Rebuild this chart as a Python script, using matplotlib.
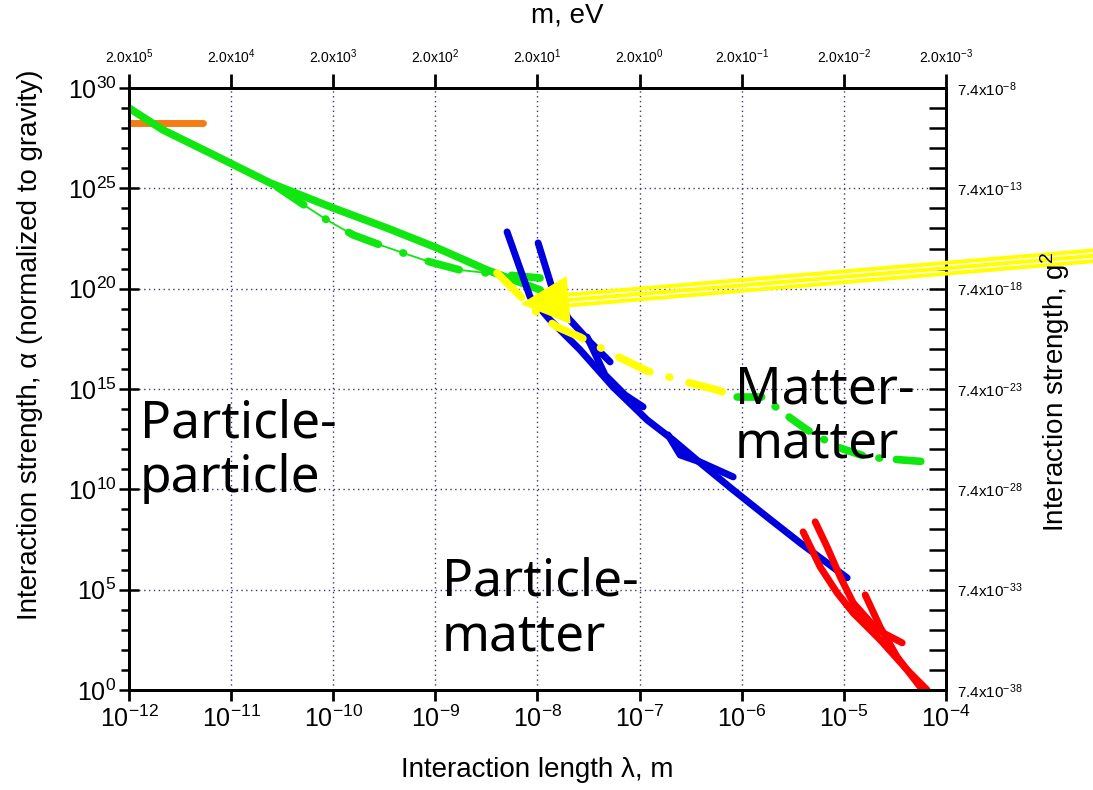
import matplotlib
matplotlib.use('Agg')
import matplotlib.pyplot as plt
import numpy as np
from matplotlib.lines import Line2D
from matplotlib.patches import Polygon
from matplotlib.ticker import FixedLocator, NullFormatter, NullLocator

plt.rcParams['font.family'] = ['Liberation Sans', 'DejaVu Sans']
plt.rcParams['mathtext.fontset'] = 'custom'
plt.rcParams['mathtext.rm'] = 'Liberation Sans'
plt.rcParams['mathtext.it'] = 'Liberation Sans:italic'
plt.rcParams['mathtext.bf'] = 'Liberation Sans:bold'

# axis decades (log10)
x_exp = [-12, -11, -10, -9, -8, -7, -6, -5, -4]
y_exp = [0, 5, 10, 15, 20, 25, 30]
mass_exp = [5, 4, 3, 2, 1, 0, -1, -2, -3]          # m = 2.0x10^k eV on top axis
g2_exp = [-38, -33, -28, -23, -18, -13, -8]         # g^2 = 7.4x10^k on right axis

# curves: log10(lambda [m]) and log10(alpha)
orange_x = [-12.0, -11.28]
orange_y = [28.26, 28.26]

green_x = [-12.0, -11.667, -11.207, -10.619, -10.0, -9.473, -8.983, -8.494, -7.975]
green_y = [29.0, 27.91, 26.76, 25.27, 24.02, 23.02, 22.03, 20.93, 19.94]

green_thin_x = [-10.55, -10.257, -10.061, -9.806, -9.542, -9.316, -9.052, -8.758, -8.494, -7.975]
green_thin_y = [25.07, 24.07, 23.42, 22.68, 22.18, 21.78, 21.33, 20.93, 20.78, 20.53]

yellow_x = [-8.396, -8.004, -7.808, -7.583, -7.289, -6.927, -6.505, -6.241, -6.045]
yellow_y = [20.78, 18.79, 18.09, 17.59, 16.80, 15.90, 15.30, 14.95, 14.60]

green_mm_x = [-6.045, -5.79, -5.594, -5.359, -5.066, -4.772, -4.419, -4.155]
green_mm_y = [14.60, 14.60, 13.81, 12.96, 12.11, 11.61, 11.46, 11.36]

blue_a_x = [-8.298, -8.073, -7.877, -7.583, -7.26, -6.927, -6.672, -6.407, -6.084, -5.751, -5.428, -4.968]
blue_a_y = [22.83, 19.59, 18.44, 16.95, 15.10, 13.46, 12.46, 11.32, 9.97, 8.62, 7.33, 5.59]
blue_b_x = [-7.994, -7.857, -7.70, -7.485, -7.289]
blue_b_y = [22.28, 20.03, 18.54, 17.34, 16.35]
blue_c_x = [-7.514, -7.338, -7.142, -6.966]
blue_c_y = [17.59, 15.70, 14.70, 14.11]
blue_d_x = [-6.721, -6.603, -6.407, -6.084]
blue_d_y = [12.71, 11.71, 11.36, 10.62]

red_a_x = [-5.399, -5.232, -5.066, -4.909, -4.645, -4.38, -4.184]
red_a_y = [7.88, 6.13, 4.84, 3.84, 2.50, 1.00, 0.0]
red_b_x = [-5.281, -5.164, -5.036, -4.909, -4.674, -4.429]
red_b_y = [8.38, 7.13, 5.64, 4.34, 3.00, 2.35]
red_c_x = [-4.791, -4.645, -4.478, -4.253]
red_c_y = [4.74, 3.14, 1.65, 0.15]

# yellow arrow pointing at the crossing point
arrow_tip = (-8.151, 19.24)

GREEN = '#10e610'
BLUE = '#0000dc'
RED = '#ff0000'
ORANGE = '#f57c14'
YELLOW = '#ffff00'


def P(xs, ys):
    return 10.0 ** np.array(xs), 10.0 ** np.array(ys)


W, H = 1093, 790
fig = plt.figure(figsize=(W / 100, H / 100), dpi=100)
ax = fig.add_axes([129 / W, 100 / H, 817 / W, 602 / H])
ax.set_xscale('log')
ax.set_yscale('log')
ax.set_xlim(1e-12, 1e-4)
ax.set_ylim(1, 1e30)

kw = dict(solid_capstyle='round', dash_capstyle='round')
ax.plot(*P(orange_x, orange_y), color=ORANGE, lw=5, **kw)
ax.plot(*P(green_thin_x, green_thin_y), color=GREEN, lw=1.3, **kw)
ax.plot(*P(green_thin_x, green_thin_y), color=GREEN, lw=5.5, dashes=(4.2, 3.4, 0.1, 3.4), **kw)
ax.plot(*P(green_x, green_y), color=GREEN, lw=5.5, **kw)
ax.plot(*P(green_mm_x, green_mm_y), color=GREEN, lw=5.5, dashes=(3.2, 2.2, 0.1, 2.2), **kw)
for bx, by in [(blue_a_x, blue_a_y), (blue_b_x, blue_b_y), (blue_c_x, blue_c_y), (blue_d_x, blue_d_y)]:
    ax.plot(*P(bx, by), color=BLUE, lw=5, **kw)
ax.plot(*P(yellow_x, yellow_y), color=YELLOW, lw=5.5, dashes=(4.5, 2.6, 0.1, 2.6), **kw)
for rx, ry in [(red_a_x, red_a_y), (red_b_x, red_b_y), (red_c_x, red_c_y)]:
    ax.plot(*P(rx, ry), color=RED, lw=5, **kw)

# bottom / left axes
ax.xaxis.set_major_locator(FixedLocator([10.0 ** e for e in x_exp]))
ax.xaxis.set_minor_locator(NullLocator())
ax.set_xticklabels([f'$10^{{{e}}}$' for e in x_exp])
ax.yaxis.set_major_locator(FixedLocator([10.0 ** e for e in y_exp]))
ax.yaxis.set_minor_locator(FixedLocator([10.0 ** k for k in range(31) if k % 5]))
ax.yaxis.set_minor_formatter(NullFormatter())
ax.set_yticklabels([f'$10^{{{e}}}$' for e in y_exp])
ax.tick_params(axis='x', which='major', direction='out', length=8, width=2, labelsize=18, pad=3)
ax.tick_params(axis='y', which='major', direction='inout', length=14, width=1.8, labelsize=18, pad=2)
ax.tick_params(axis='y', which='minor', direction='out', length=6, width=1.8)
ax.grid(True, which='major', linestyle=(0, (1, 2.5)), color='#3a3a70', lw=1)

# top axis: mass in eV
axt = ax.twiny()
axt.set_xscale('log')
axt.set_xlim(ax.get_xlim())
axt.xaxis.set_major_locator(FixedLocator([10.0 ** e for e in x_exp]))
axt.xaxis.set_minor_locator(NullLocator())
axt.set_xticklabels([f'2.0x10$^{{{k}}}$' for k in mass_exp])
axt.tick_params(axis='x', direction='out', length=10, width=2, labelsize=10, pad=6)

# right axis: g^2
axr = ax.twinx()
axr.set_yscale('log')
axr.set_ylim(7.4e-38, 7.4e-8)
axr.yaxis.set_major_locator(FixedLocator([7.4 * 10.0 ** k for k in g2_exp]))
axr.yaxis.set_minor_locator(FixedLocator([7.4 * 10.0 ** k for k in range(-38, -7) if (k + 38) % 5]))
axr.yaxis.set_minor_formatter(NullFormatter())
axr.set_yticklabels([f'7.4x10$^{{{k}}}$' for k in g2_exp])
axr.tick_params(axis='y', which='both', direction='in', length=12, width=1.8, labelsize=11, pad=8)

for a in (ax, axt, axr):
    for s in a.spines.values():
        s.set_linewidth(2)

# axis titles
fig.text(30 / W, 1 - 345 / H, 'Interaction strength, α (normalized to gravity)',
         rotation=90, ha='center', va='center', fontsize=20)
fig.text(537 / W, 1 - 770 / H, 'Interaction length λ, m', ha='center', va='center', fontsize=20)
fig.text(567 / W, 1 - 16 / H, 'm, eV', ha='center', va='center', fontsize=20)
fig.text(1055 / W, 1 - 392 / H, 'Interaction strength, g$^2$', rotation=90,
         ha='center', va='center', fontsize=20)

# region labels
region_kw = dict(family=['Noto Sans', 'DejaVu Sans'], fontsize=37, ha='left', va='top', linespacing=1.1)
fig.text(140 / W, 1 - 398 / H, 'Particle-\nparticle', **region_kw)
fig.text(442 / W, 1 - 557 / H, 'Particle-\nmatter', **region_kw)
fig.text(735 / W, 1 - 364 / H, 'Matter-\nmatter', **region_kw)

# yellow hollow arrow coming in from the right edge
tip = ax.transData.transform((10 ** arrow_tip[0], 10 ** arrow_tip[1]))
tail = np.array([W + 10, H - 255.0])
d = (tail - tip) / np.hypot(*(tail - tip))
n = np.array([-d[1], d[0]])
base = tip + d * 46
head = np.array([tip, base + n * 23, base - n * 23]) / [W, H]
fig.add_artist(Polygon(head, closed=True, facecolor=YELLOW, edgecolor=YELLOW, lw=1,
                       transform=fig.transFigure))
for off in (-5.4, 0, 5.4):
    p0 = (base - d * 2 + n * off) / [W, H]
    p1 = (tail + n * off) / [W, H]
    fig.add_artist(Line2D([p0[0], p1[0]], [p0[1], p1[1]], color=YELLOW, lw=2.8,
                          transform=fig.transFigure))

fig.savefig('out.png', dpi=100)
